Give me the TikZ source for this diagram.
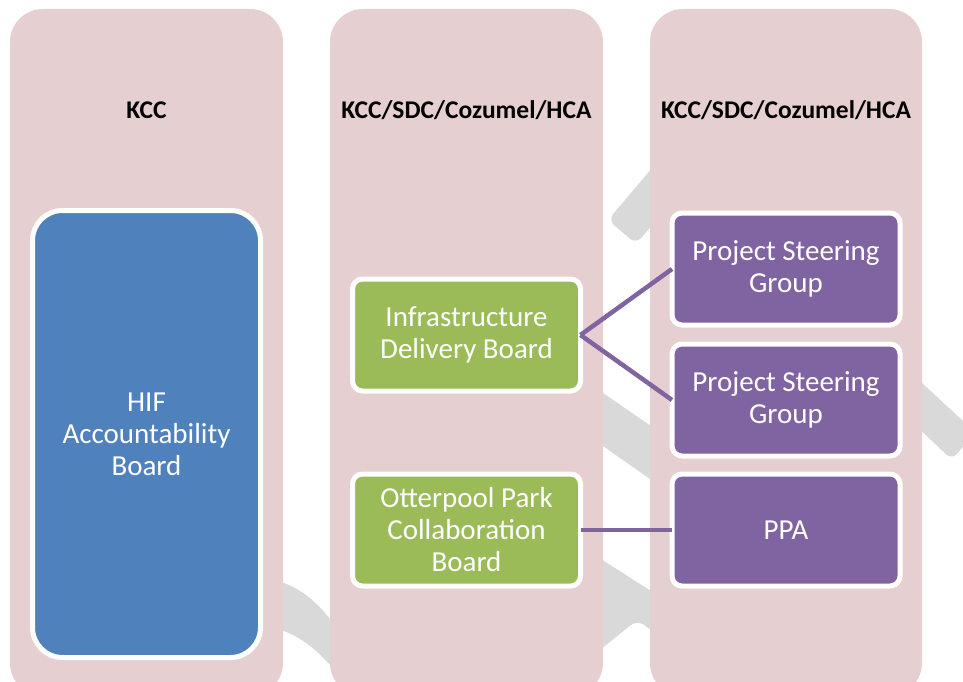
\documentclass[tikz,border=0pt]{standalone}
\usepackage{fontspec}
\setmainfont{Carlito}
\definecolor{colpink}{RGB}{230,207,208}
\definecolor{bandgrey}{RGB}{217,217,217}
\definecolor{hifblue}{RGB}{79,129,189}
\definecolor{boardgreen}{RGB}{155,187,89}
\definecolor{groupviolet}{RGB}{128,100,162}

\begin{document}
\begin{tikzpicture}[x=1pt, y=-1pt,
  column/.style={fill=colpink, rounded corners=33pt},
  band/.style={fill=bandgrey, rounded corners=8pt},
  head/.style={font=\fontsize{25.5}{30}\selectfont\bfseries},
  box/.style={draw=white, line width=5pt, rounded corners=10pt, minimum width=228pt,
    minimum height=112pt, inner sep=0pt, outer sep=0pt, align=center, text=white,
    font=\fontsize{29}{32}\selectfont},
  link/.style={draw=groupviolet, line width=4.5pt}]
\clip (0,0) rectangle (963,682);
% grey bands behind the columns
\fill[band] (686,128) -- (714,152) -- (636,244) -- (608,220) -- cycle;
\fill[band] (590,384) -- (680,446) -- (680,500) -- (590,437) -- cycle;
\fill[band] (910,372) -- (975,432) -- (952,460) -- (910,420) -- cycle;
\fill[band] (590,552) -- (690,616) -- (680,650) -- (637,620) -- (590,658) -- cycle;
\fill[bandgrey] (265,578) .. controls (295,583) and (318,598) .. (345,640) -- (345,682)
  .. controls (320,652) and (300,632) .. (265,626) -- cycle;
% columns
\fill[column] (10,9) rectangle (283,696);
\fill[column] (330,9) rectangle (603,696);
\fill[column] (650,9) rectangle (922,696);
\node[head] (kcc) at (146.5,110) {KCC};
\node[head] (partners1) at (466.5,110) {KCC/SDC/Cozumel/HCA};
\node[head] (partners2) at (786,110) {KCC/SDC/Cozumel/HCA};
% boards
\node[box, fill=hifblue, minimum height=447pt, rounded corners=30pt] (hif) at (146.5,434) {HIF\\Accountability\\Board};
\node[box, fill=boardgreen] (idb) at (466.5,335) {Infrastructure\\Delivery Board};
\node[box, fill=boardgreen] (opcb) at (466.5,530) {Otterpool Park\\Collaboration\\Board};
\node[box, fill=groupviolet] (psg1) at (786,269) {Project Steering\\Group};
\node[box, fill=groupviolet] (psg2) at (786,400) {Project Steering\\Group};
\node[box, fill=groupviolet] (ppa) at (786,530) {PPA};
\draw[link](idb.east) -- (psg1.west);
\draw[link](idb.east) -- (psg2.west);
\draw[link](opcb.east) -- (ppa.west);
\end{tikzpicture}
\end{document}
